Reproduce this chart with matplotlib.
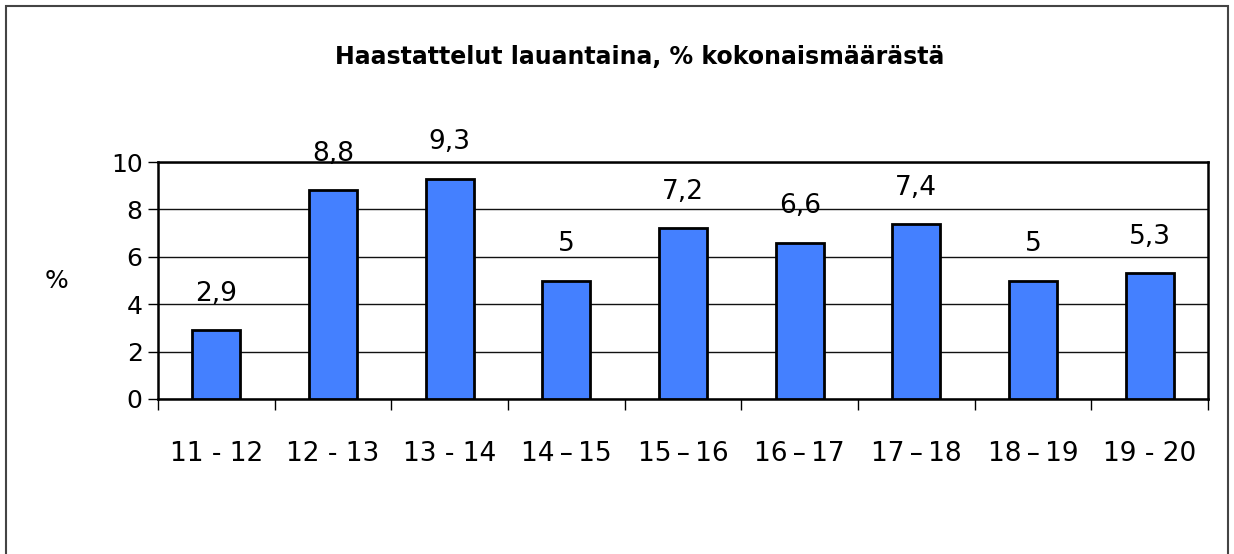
import matplotlib
matplotlib.use("Agg")
import matplotlib.pyplot as plt
from matplotlib.patches import Rectangle
import numpy as np

plt.rcParams['font.family'] = ['DejaVu Sans']

# data
hours = ["11 - 12", "12 - 13", "13 - 14", "14\u2009\u2013\u200915", "15\u2009\u2013\u200916",
         "16\u2009\u2013\u200917", "17\u2009\u2013\u200918", "18\u2009\u2013\u200919", "19 - 20"]
share = [2.9, 8.8, 9.3, 5, 7.2, 6.6, 7.4, 5, 5.3]
share_labels = ["2,9", "8,8", "9,3", "5", "7,2", "6,6", "7,4", "5", "5,3"]
yticks = [0, 2, 4, 6, 8, 10]

fig = plt.figure(figsize=(12.34, 5.54), dpi=100)
ax = fig.add_axes([158/1234, 1-399/554, 1050/1234, 237/554])

x = np.arange(len(hours))
ax.bar(x, share, width=0.41, color="#4480FF", edgecolor="black", linewidth=2, zorder=3)

for xi, v, lab in zip(x, share, share_labels):
    ax.annotate(lab, (xi, v), xytext=(0, 26), textcoords="offset points",
                ha="center", va="center", fontsize=19)

ax.set_xlim(-0.5, len(hours) - 0.5)
ax.set_ylim(0, 10)
ax.set_yticks(yticks)
ax.set_yticklabels([str(t) for t in yticks], fontsize=18)
ax.yaxis.grid(True, color="#111111", linewidth=1, zorder=0)

ax.set_xticks(x)
ax.set_xticklabels(hours, fontsize=19)
ax.set_xticks(np.arange(len(hours) + 1) - 0.5, minor=True)
ax.tick_params(axis="x", which="major", length=0, pad=30)
ax.tick_params(axis="x", which="minor", length=8, width=1)
ax.tick_params(axis="y", length=7, width=1, pad=4)

for s in ax.spines.values():
    s.set_linewidth(1.8)

ax.set_ylabel("%", fontsize=18, rotation=0, va="center", labelpad=0)
ax.yaxis.set_label_coords(-0.097, 0.5)

fig.text(640/1234, 1-57/554, "Haastattelut lauantaina, % kokonaismäärästä",
         ha="center", va="center", fontsize=17, fontweight="bold")

fig.patches.append(Rectangle((6/1234, -0.05), 1222/1234, 1.05 - 6/554,
                             transform=fig.transFigure, fill=False,
                             edgecolor="#444444", linewidth=1.5))

fig.savefig("out.png", dpi=100)
